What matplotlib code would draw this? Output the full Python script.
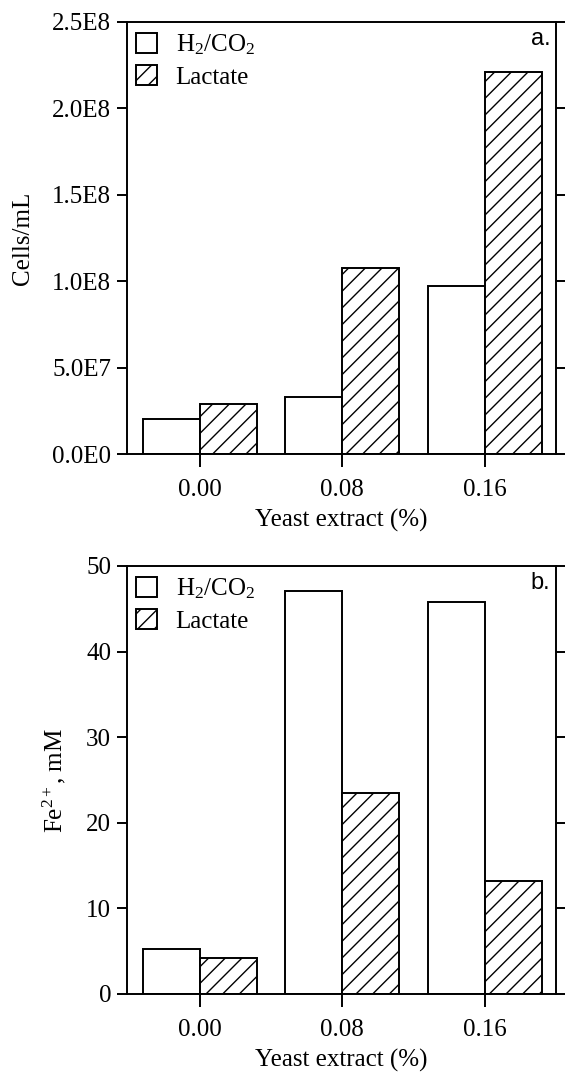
import matplotlib
matplotlib.use("Agg")
import matplotlib.pyplot as plt
import numpy as np

# Дані
yeast_labels = ["0.00", "0.08", "0.16"]
series_names = ["H$_2$/CO$_2$", "Lactate"]

cells_h2 = [2.05e7, 3.3e7, 9.7e7]
cells_lactate = [2.9e7, 1.075e8, 2.21e8]
cells_ticks = [0, 5e7, 1e8, 1.5e8, 2e8, 2.5e8]
cells_tick_labels = ["0.0E0", "5.0E7", "1.0E8", "1.5E8", "2.0E8", "2.5E8"]

fe_h2 = [5.3, 47.1, 45.8]
fe_lactate = [4.25, 23.5, 13.2]
fe_ticks = [0, 10, 20, 30, 40, 50]

plt.rcParams["font.family"] = ["Liberation Serif", "DejaVu Serif"]
plt.rcParams["mathtext.fontset"] = "custom"
plt.rcParams["mathtext.rm"] = "Liberation Serif"
plt.rcParams["mathtext.it"] = "Liberation Serif:italic"
plt.rcParams["font.size"] = 18
plt.rcParams["hatch.linewidth"] = 1.0
plt.rcParams["axes.linewidth"] = 1.4

fig = plt.figure(figsize=(5.65, 10.74), dpi=100)
ax_a = fig.add_axes([127 / 565, 1 - 454 / 1074, 429 / 565, 432 / 1074])
ax_b = fig.add_axes([127 / 565, 1 - 994 / 1074, 429 / 565, 428 / 1074])

x = np.arange(len(yeast_labels))
w = 0.4


def draw_panel(ax, h2, lact, ylim, ticks, tick_labels, ylabel, label_x, tag):
    ax.bar(x - w / 2, h2, w, color="white", edgecolor="black", linewidth=1.4,
           label=series_names[0])
    ax.bar(x + w / 2, lact, w, color="white", edgecolor="black", linewidth=1.4,
           hatch="//", label=series_names[1])
    ax.set_xlim(-0.51, 2.5)
    ax.set_ylim(*ylim)
    ax.set_xticks(x)
    ax.set_xticklabels(yeast_labels)
    ax.set_yticks(ticks)
    ax.set_yticklabels(tick_labels)
    ax.tick_params(axis="y", which="both", direction="out", length=7.5,
                   width=1.4, left=True, right=True, pad=4)
    ax.tick_params(axis="x", direction="out", length=9, width=1.4, pad=9)
    ax.set_xlabel("Yeast extract (%)", labelpad=6)
    ax.set_ylabel(ylabel)
    ax.yaxis.set_label_coords(label_x, 0.5)
    ax.legend(loc="upper left", bbox_to_anchor=(-0.003, 1.0), frameon=False,
              handlelength=0.83, handleheight=0.83, handletextpad=0.75,
              labelspacing=0.32, borderpad=0.3, borderaxespad=0.12)
    ax.text(0.987, 0.985, tag, transform=ax.transAxes, ha="right", va="top",
            fontsize=17, family="Liberation Sans")


draw_panel(ax_a, cells_h2, cells_lactate, (0, 2.5e8), cells_ticks,
           cells_tick_labels, "Cells/mL", -0.217, "a.")
draw_panel(ax_b, fe_h2, fe_lactate, (0, 50), fe_ticks,
           [str(t) for t in fe_ticks], "Fe$^{2+}$, mM", -0.137, "b.")

fig.savefig("out.png", dpi=100)
